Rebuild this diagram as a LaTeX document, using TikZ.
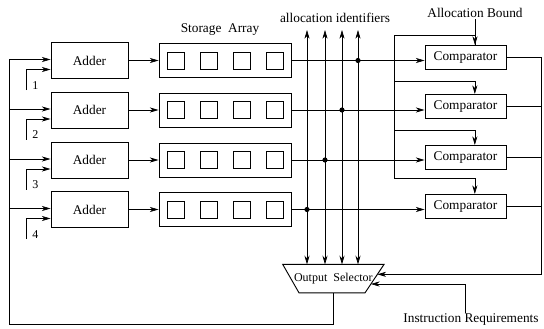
\documentclass[tikz,border=0pt]{standalone}
\usepackage{fontspec}
\setmainfont{Liberation Serif}
\usetikzlibrary{arrows.meta,positioning,calc}

\begin{document}
\begin{tikzpicture}[x=0.75pt, y=-0.75pt, line width=0.5pt,
    box/.style={draw, rectangle, inner sep=0pt, line width=0.7pt},
    adder/.style={box, minimum width=57.75pt, minimum height=27pt},
    store/.style={box, minimum width=99pt, minimum height=25.5pt},
    cell/.style={box, minimum width=12.75pt, minimum height=12.75pt},
    cmp/.style={box, minimum width=60.75pt, minimum height=18pt},
    lbl/.style={inner sep=1pt},
    arrow/.style={-{Stealth[length=6.5pt,width=3.8pt,inset=2pt]}},
    biarrow/.style={{Stealth[length=6.5pt,width=3.8pt,inset=2pt]}-{Stealth[length=6.5pt,width=3.8pt,inset=2pt]}}
]
\useasboundingbox (0,0) rectangle (544,329);

% Labels
\node[lbl] (storelbl) at (220,30) {Storage~~Array};
\node[lbl] (idlbl) at (335,18) {allocation identifiers};
\node[lbl] (bound) at (475,13) {Allocation Bound};
\node[lbl] (instr) at (471,320) {Instruction Requirements};

% Output selector
\node[font=\small, minimum width=75.5pt, minimum height=20.85pt, inner sep=0pt] (sel) at (333.4,278.6) {\raisebox{1.5pt}{Output~~Selector}};
\coordinate (selSE) at ([xshift=-14.3pt]sel.south east);
\coordinate (selSW) at ([xshift=12.2pt]sel.south west);
\draw[line width=0.7pt] (sel.north west) -- (sel.north east) -- (selSE) -- (selSW) -- cycle;
\coordinate (selR) at ($(sel.north east)!0.35!(selSE)$);
\coordinate (selI) at ($(sel.north east)!0.69!(selSE)$);

% Rows
\foreach \i/\y/\bx/\cy in {1/60.5/358/57.5, 2/110/342/106.5, 3/160/325/157.5, 4/209.5/307/206.5} {
    \node[adder] (add\i) at (89.5,\y) {Adder};
    \node[store] (st\i) at (225,\y) {};
    \foreach \c [count=\j] in {-49.5,-16.5,16.5,49.5}
        \node[cell] (c\i\j) at (225+\c,\y) {};
    \node[cmp] (cmp\i) at (465.5,\cy) {Comparator};
    \draw[arrow] (add\i) -- (st\i);
    % storage to comparator
    \coordinate (dot\i) at (\bx,\y);
    \draw[arrow] (st\i.east) -- (st\i.east -| cmp\i.west);
    \fill (dot\i) circle[radius=2.6];
    % adder inputs
    \coordinate (bus\i) at (9.3,\y-1);
    \draw[arrow] (bus\i) -- (bus\i -| add\i.west);
    \coordinate (src\i) at (26.7,\y+29.5);
    \draw[arrow] (src\i) |- ([yshift=-6.75pt]add\i.west);
    \node[lbl, font=\small] (n\i) at (35.5,\y+25) {\i};
}

% Allocation identifier lines
\foreach \x [count=\k] in {307,325,342,358} {
    \coordinate (top\k) at (\x,30);
    \draw[biarrow] (top\k) -- (top\k |- sel.north);
}

% Feedback from selector to adders
\coordinate (bus0) at (9.3,324.4);
\draw (sel.south) |- (bus0) -- (bus1);

% Allocation bound distribution
\foreach \i/\y in {1/35, 2/81.7, 3/130, 4/178.3}
    \coordinate (bb\i) at (394,\y);
\draw (bb1) -- (bb4);
\draw[arrow] (bound) -- (bound.south |- cmp1.north);
\foreach \i in {2,3,4}
    \draw[arrow] (bb\i) -| ([xshift=7pt]cmp\i.north);
\draw (bb1) -| (bound.south |- cmp1.north);

% Comparator outputs to selector
\draw[arrow] (cmp1.east) -- ++(35,0) |- (selR);
\foreach \i in {2,3,4}
    \draw (cmp\i.east) -- ++(35,0);

% Instruction requirements
\draw[arrow] ([xshift=-4.5pt]instr.north) |- (selI);
\end{tikzpicture}
\end{document}
